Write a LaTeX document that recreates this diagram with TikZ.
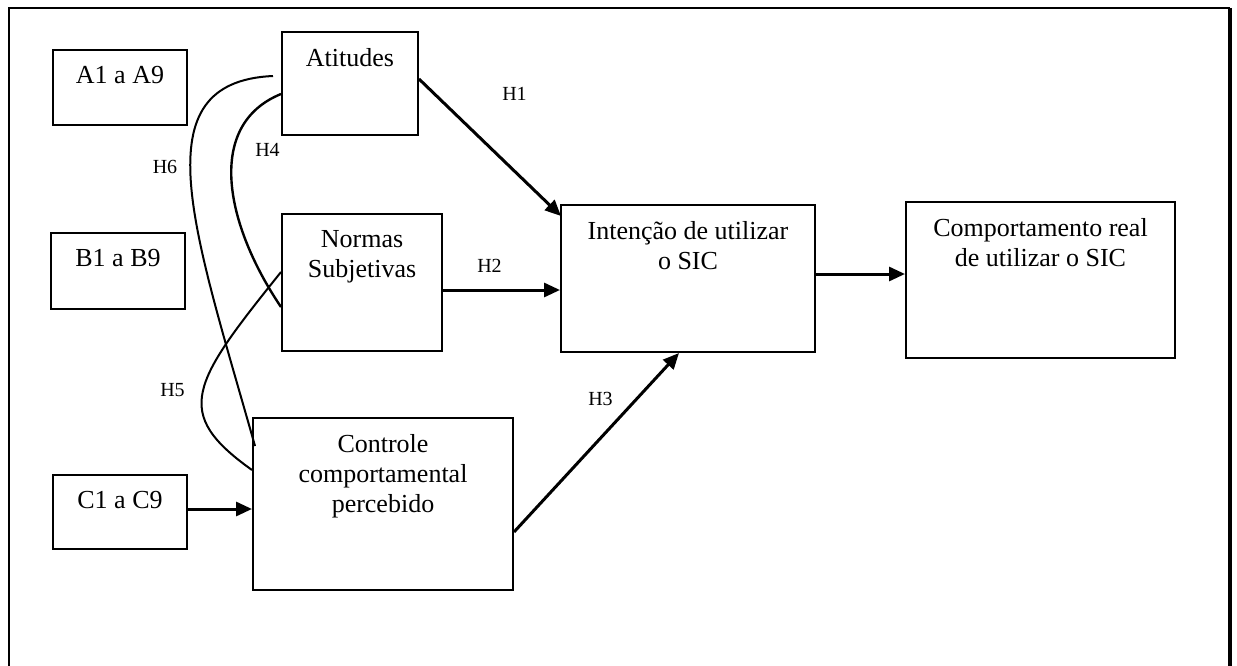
\documentclass[tikz,border=0pt]{standalone}
\usepackage{fontspec}
\setmainfont{Liberation Serif}
\usetikzlibrary{arrows.meta}

\begin{document}
\begin{tikzpicture}[x=1pt,y=-1pt,
    box/.style={draw, line width=2pt, inner sep=0pt},
    boxtext/.style={anchor=north, inner sep=0pt, align=center,
      font=\fontsize{26pt}{30pt}\selectfont},
    hyp/.style={inner sep=0pt, font=\fontsize{20pt}{24pt}\selectfont},
    arr/.style={line width=3pt, -{Triangle[length=16pt,width=14pt]}},
    link/.style={line width=2pt},
  ]
  \useasboundingbox (0,0) rectangle (1237,666);

  % open frame (bottom edge falls below the page)
  \draw[line width=2.4pt] (9,680) -- (9,8) -- (1230,8);
  \draw[line width=3.4pt] (1230,8) -- (1230,680);

  % indicator boxes
  \node[box, minimum width=134pt, minimum height=75pt] (a) at (120,87.5) {};
  \node[boxtext] (a-t) at ([yshift=-17.5pt]a.north) {A1 a A9};
  \node[box, minimum width=134pt, minimum height=76pt] (b) at (118,271) {};
  \node[boxtext] (b-t) at ([yshift=-17.5pt]b.north) {B1 a B9};
  \node[box, minimum width=134pt, minimum height=74pt] (c) at (120,512) {};
  \node[boxtext] (c-t) at ([yshift=-17.5pt]c.north) {C1 a C9};

  % constructs
  \node[box, minimum width=136pt, minimum height=103pt] (att) at (350,83.5) {};
  \node[boxtext] (att-t) at ([yshift=-17.5pt]att.north) {Atitudes};
  \node[box, minimum width=160pt, minimum height=137pt] (ns) at (362,282.5) {};
  \node[boxtext] (ns-t) at ([yshift=-17.5pt]ns.north) {Normas\\Subjetivas};
  \node[box, minimum width=260pt, minimum height=172pt] (ctl) at (383,504) {};
  \node[boxtext] (ctl-t) at ([yshift=-17.5pt]ctl.north) {Controle\\comportamental\\percebido};
  \node[box, minimum width=254pt, minimum height=147pt] (int) at (688,278.5) {};
  \node[boxtext] (int-t) at ([yshift=-17.5pt]int.north) {Intenção de utilizar\\o SIC};
  \node[box, minimum width=269pt, minimum height=156pt] (comp) at (1040.5,280) {};
  \node[boxtext] (comp-t) at ([yshift=-17.5pt]comp.north) {Comportamento real\\de utilizar o SIC};

  % direct paths
  \draw[arr] ([yshift=4.5pt]att.east) -- ([yshift=-12pt,xshift=1pt]int.north west);
  \draw[arr] ([yshift=-7.5pt]ns.east) -- ([yshift=-7.5pt]ns.east -| int.west);
  \draw[arr] ([yshift=-28pt]ctl.east) -- ([xshift=-9pt]int.south);
  \draw[arr] ([yshift=4.5pt]int.east) -- ([yshift=4.5pt]int.east -| comp.west);
  \draw[arr] ([yshift=3pt]c.east) -- ([yshift=3pt]c.east -| ctl.west);

  % correlations between constructs
  \draw[link, line width=2.4pt] ([yshift=-10.5pt]att.west)
    .. controls +(-76,31) and +(-56,-83) .. ([yshift=-24.5pt]ns.west);
  \draw[link] ([xshift=-8pt,yshift=7.5pt]att.west)
    .. controls +(-134,6) and +(-61,-216) .. ([xshift=3pt,yshift=58pt]ctl.west);
  \draw[link] ([yshift=10.5pt]ns.west)
    .. controls +(-90,112) and +(-80,-57) .. ([yshift=34pt]ctl.west);

  % hypothesis labels
  \node[hyp] (h1) at (514.5,94) {H1};
  \node[hyp] (h2) at (489.5,266) {H2};
  \node[hyp] (h3) at (600.5,398.5) {H3};
  \node[hyp] (h4) at (267.5,149.5) {H4};
  \node[hyp] (h5) at (172.5,390.5) {H5};
  \node[hyp] (h6) at (165,167) {H6};
\end{tikzpicture}
\end{document}
